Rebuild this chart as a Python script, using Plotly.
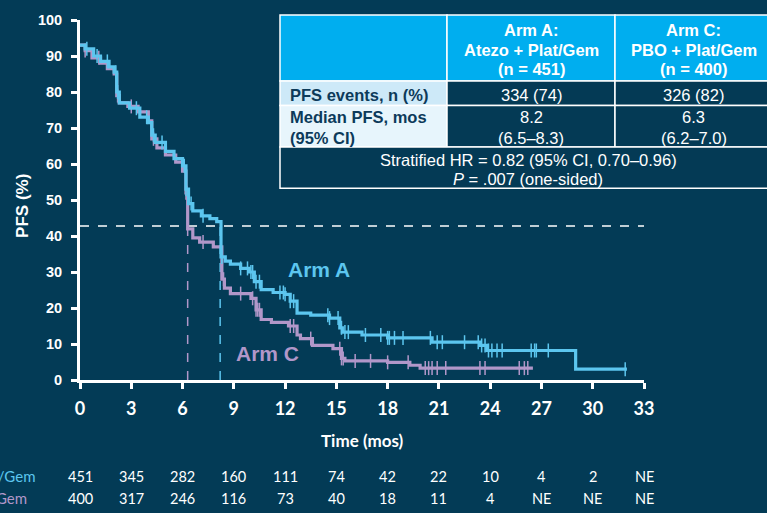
import numpy as np
import plotly.graph_objects as go

# ---- Kaplan-Meier step data (time in months, PFS in %) ----
arm_a_t = [0, 0.3, 0.8, 1.2, 1.7, 2.0, 2.15, 2.3, 2.9, 3.5, 4.0, 4.2, 4.4, 5.0, 5.5, 6.0,
           6.2, 6.35, 6.6, 7.1, 7.6, 8.0, 8.25, 8.5, 8.8, 9.4, 9.9, 10.2, 10.6, 11.3, 12.0,
           12.3, 12.7, 13.5, 14.6, 15.2, 15.35, 16.5, 18.0, 20.6, 23.4, 23.8, 29.0, 32.0]
arm_a_s = [93, 92, 90, 88.5, 87, 85.5, 80, 77, 75.5, 73, 71.5, 68, 66, 63.5, 61.5, 59.5,
           53, 49, 47, 45.6, 44.8, 44.0, 34.2, 33.0, 32.2, 31.0, 30.0, 27.3, 25.1, 24.3, 23.8,
           21.9, 18.6, 18.0, 17.2, 14.5, 13.3, 12.5, 11.7, 10.5, 9.6, 8.2, 3.0, 3.0]

arm_c_t = [0, 0.3, 0.7, 1.2, 1.6, 2.0, 2.15, 2.3, 2.8, 3.4, 4.0, 4.2, 4.5, 5.0, 5.6, 6.0,
           6.2, 6.3, 6.6, 7.0, 7.8, 8.3, 8.45, 8.8, 10.0, 10.3, 10.6, 11.2, 12.2, 12.7, 12.9,
           13.6, 14.8, 15.3, 15.5, 18.0, 19.3, 19.9, 26.5]
arm_c_s = [93, 91.5, 89.5, 88, 86.5, 85, 79, 77, 76, 74.5, 72, 67, 64.5, 62.5, 60.5, 58,
           52, 42, 39.5, 38.3, 37, 28, 25.5, 24, 22.7, 19.5, 16.8, 16, 15, 12.5, 11.5,
           9.6, 8.7, 6.0, 5.3, 4.9, 4.1, 3.3, 3.3]

# ---- censoring times ----
arm_a_cens = [0.4, 1.0, 1.6, 2.1, 2.2, 3.3, 3.9, 4.3, 4.8, 6.1, 6.2, 6.5, 7.2, 8.3, 9.4, 9.8,
              10.0, 10.1, 10.3, 10.5, 11.7, 11.9, 12.0, 12.3, 12.5, 14.5, 14.6, 15.1, 15.3,
              15.5, 15.7, 16.7, 17.6, 18.0, 18.1, 18.4, 18.9, 20.5, 20.9, 21.2, 22.5, 23.3,
              23.5, 23.7, 23.9, 24.1, 24.4, 24.7, 26.4, 26.6, 26.7, 27.4, 31.9]
arm_c_cens = [0.3, 1.1, 2.2, 3.0, 4.3, 6.2, 6.25, 7.2, 8.4, 9.4, 10.1, 10.3, 10.4, 10.5,
              12.3, 12.5, 13.5, 15.2, 15.3, 15.4, 16.1, 17.0, 18.0, 19.2, 20.2, 20.4, 20.6,
              20.9, 21.4, 23.4, 23.7, 25.7, 26.0, 26.2]

# ---- medians and reference level ----
median_a = 8.2
median_c = 6.3
median_level = 42.8

# ---- numbers at risk ----
risk_times = [0, 3, 6, 9, 12, 15, 18, 21, 24, 27, 30, 33]
risk_a = ["451", "345", "282", "160", "111", "74", "42", "22", "10", "4", "2", "NE"]
risk_c = ["400", "317", "246", "116", "73", "40", "18", "11", "4", "NE", "NE", "NE"]
risk_labels = ["Atezo + Plat/Gem", "PBO + Plat/Gem"]

# ---- summary table (one list of lines per cell) ----
table_header = [[], ["<b>Arm A:</b>", "<b>Atezo + Plat/Gem</b>", "<b>(n = 451)</b>"],
                ["<b>Arm C:</b>", "<b>PBO + Plat/Gem</b>", "<b>(n = 400)</b>"]]
table_events = [["<b>PFS events, n (%)</b>"], ["334 (74)"], ["326 (82)"]]
table_median = [["<b>Median PFS, mos</b>", "<b>(95% CI)</b>"], ["8.2", "(6.5–8.3)"],
                ["6.3", "(6.2–7.0)"]]
table_hr = ["Stratified HR = 0.82 (95% CI, 0.70–0.96)", "<i>P</i> = .007 (one-sided)"]

CYAN = "#5cc6ef"
LAV = "#b197c9"
BG = "#033b56"
DARK_TXT = "#0c3a5a"


def step_value(times, surv, t):
    idx = np.searchsorted(np.asarray(times), t, side="right") - 1
    return np.asarray(surv)[np.clip(idx, 0, len(surv) - 1)]


# plot area in pixels: x 80..644, y 14..380
L, R, T, B = 80, 644, 14, 380
W, H = 767, 513


def px(xp):
    return (xp - L) / (R - L)


def py(yp):
    return (B - yp) / (B - T)


def note(x, y, text, size, color, family="Arial", xanchor="center", align="center",
         xref="paper", **kw):
    return dict(x=x, y=y, xref=xref, yref="paper", text=text, showarrow=False,
                xanchor=xanchor, yanchor="middle", align=align,
                font=dict(family=family, size=size, color=color), **kw)


fig = go.Figure()

# median guide lines
fig.add_trace(go.Scatter(x=[0, 33.1], y=[median_level, median_level], mode="lines",
                         line=dict(color="white", width=1.5, dash="dash"),
                         hoverinfo="skip", showlegend=False, cliponaxis=False))
fig.add_trace(go.Scatter(x=[median_c, median_c], y=[0, median_level], mode="lines",
                         line=dict(color=LAV, width=1.5, dash="dash"),
                         hoverinfo="skip", showlegend=False))
fig.add_trace(go.Scatter(x=[median_a, median_a], y=[0, median_level], mode="lines",
                         line=dict(color=CYAN, width=1.5, dash="dash"),
                         hoverinfo="skip", showlegend=False))

# KM curves: Arm C under Arm A
for t, s, cens, col, name in [(arm_c_t, arm_c_s, arm_c_cens, LAV, "Arm C"),
                              (arm_a_t, arm_a_s, arm_a_cens, CYAN, "Arm A")]:
    fig.add_trace(go.Scatter(x=t, y=s, mode="lines", line=dict(color=col, width=3.2, shape="hv"),
                             name=name, showlegend=False))
    fig.add_trace(go.Scatter(x=cens, y=step_value(t, s, cens), mode="markers",
                             marker=dict(symbol="line-ns", size=10,
                                         line=dict(color=col, width=1.5)),
                             showlegend=False, hoverinfo="skip"))

annotations = []

# curve labels
annotations.append(note(px(319), py(268), "<b>Arm A</b>", 21, CYAN))
annotations.append(note(px(267), py(353), "<b>Arm C</b>", 21, LAV))

# axis titles
annotations.append(note(px(23), py(203), "<b>PFS (%)</b>", 17, "white", textangle=-90))
annotations.append(note(px(362), py(441), "<b>Time (mos)</b>", 17, "white", family="Lato"))

# numbers at risk
for row, vals, col, yp, xr in [(0, risk_a, CYAN, 478, 38), (1, risk_c, LAV, 500, 29)]:
    annotations.append(note(px(xr), py(yp), risk_labels[row], 15, col, family="Lato",
                            xanchor="right"))
    for t, v in zip(risk_times, vals):
        annotations.append(note(t, py(yp), v, 14.5, "white", family="Lato", xref="x"))

# summary table
shapes = []
cols_px = [280, 447, 615, 772]
rows_px = [9, 76, 101, 143, 185]
HEAD = "#00aeef"
CELL = "#043a55"
fills = {
    (0, 0): HEAD, (0, 1): HEAD, (0, 2): HEAD,
    (1, 0): "#cde9f8", (1, 1): CELL, (1, 2): CELL,
    (2, 0): "#e7f5fc", (2, 1): CELL, (2, 2): CELL,
}
for (r, c), fc in fills.items():
    shapes.append(dict(type="rect", xref="paper", yref="paper",
                       x0=px(cols_px[c]), x1=px(cols_px[c + 1]),
                       y0=py(rows_px[r + 1]), y1=py(rows_px[r]),
                       fillcolor=fc, line=dict(color="white", width=1.5), layer="above"))
shapes.append(dict(type="rect", xref="paper", yref="paper",
                   x0=px(cols_px[0]), x1=px(cols_px[3]), y0=py(rows_px[4]), y1=py(rows_px[3]),
                   fillcolor=CELL, line=dict(color="white", width=1.5), layer="above"))

TFONT = 16.5
line_y = {0: [24, 44, 64], 1: [90], 2: [113, 134]}
for r, cells in enumerate([table_header, table_events, table_median]):
    for c, lines in enumerate(cells):
        for txt, yl in zip(lines, line_y[r]):
            if c == 0:
                annotations.append(note(px(cols_px[0] + 8), py(yl), txt, TFONT, DARK_TXT,
                                        xanchor="left", align="left"))
            else:
                xmid = (cols_px[c] + cols_px[c + 1]) / 2
                annotations.append(note(px(xmid), py(yl), txt, TFONT, "white"))
for txt, yl in zip(table_hr, [156, 176]):
    annotations.append(note(px(528), py(yl), txt, TFONT, "white"))

fig.update_layout(
    width=W, height=H,
    margin=dict(l=L, r=W - R, t=T, b=H - B),
    paper_bgcolor=BG, plot_bgcolor=BG,
    showlegend=False,
    xaxis=dict(range=[0, 33], tickmode="array", tickvals=risk_times,
               showgrid=False, zeroline=False, showline=True, linecolor="white", linewidth=3,
               ticks="outside", ticklen=6, tickwidth=2.5, tickcolor="white",
               tickfont=dict(family="Lato", size=18, color="white", weight="bold"),
               ticklabelstandoff=4),
    yaxis=dict(range=[0, 100], tickmode="linear", tick0=0, dtick=10,
               showgrid=False, zeroline=False, showline=True, linecolor="white", linewidth=3,
               ticks="outside", ticklen=6, tickwidth=2.5, tickcolor="white",
               tickfont=dict(family="Arial", size=14.5, color="white", weight="bold"),
               ticklabelstandoff=6),
    shapes=shapes,
    annotations=annotations,
)

fig.write_html("out.html")
